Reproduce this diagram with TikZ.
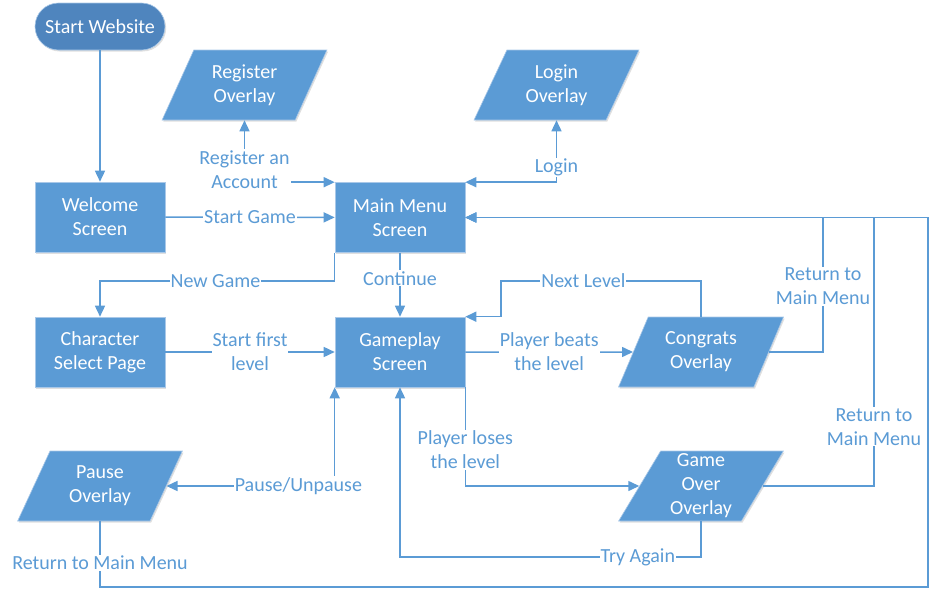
\documentclass[tikz,border=0pt]{standalone}
\usepackage{fontspec}
\setmainfont{Carlito}
\usetikzlibrary{shapes.geometric,arrows.meta,shadows}
\definecolor{boxblue}{HTML}{5B9BD5}
\definecolor{startblue}{HTML}{4F85BE}
\definecolor{edgeblue}{HTML}{A9C8E8}
\tikzset{
  box/.style={draw=edgeblue, line width=0.6pt, fill=boxblue, text=white, minimum width=130pt, minimum height=70pt, inner sep=0pt, align=center, drop shadow={shadow xshift=1.2pt, shadow yshift=-1.5pt, opacity=0.25}},
  slanted/.style={box, trapezium, trapezium left angle=63.43, trapezium right angle=116.57, trapezium stretches=true, minimum width=165pt},
  flow/.style={draw=boxblue, line width=1.5pt, -{Triangle[length=11pt,width=10pt]}},
  twoway/.style={flow, {Triangle[length=11pt,width=10pt]}-{Triangle[length=11pt,width=10pt]}},
  lbl/.style={fill=white, text=boxblue, inner sep=1pt, align=center}
}
\begin{document}
\begin{tikzpicture}[x=1pt, y=-1pt, font=\fontsize{20}{24}\selectfont]
\useasboundingbox (0,0) rectangle (931,589);
\node[box, fill=startblue, rounded corners=23.5pt, minimum height=47pt] (start) at (100,26.5) {Start Website};
\node[slanted] (reg) at (244.5,85) {Register\\Overlay};
\node[slanted] (login) at (556.5,85) {Login\\Overlay};
\node[box] (welcome) at (100,217) {Welcome\\Screen};
\node[box] (main) at (400,217.5) {Main Menu\\Screen};
\node[box] (char) at (100,352) {Character\\Select Page};
\node[box] (gp) at (400,352) {Gameplay\\Screen};
\node[slanted] (cg) at (701,352) {Congrats\\Overlay};
\node[slanted] (ps) at (100,486) {Pause\\Overlay};
\node[slanted] (go) at (701,486) {Game\\Over\\Overlay};
\coordinate (ng) at (100,281);
\coordinate (nl) at (501,281);
\coordinate (ta) at (400,557);
\coordinate (r1) at (823,217.5);
\coordinate (r2) at (874,217.5);
\coordinate (r3) at (928,587);
\draw[flow] (start) -- (welcome);
\draw[twoway] (reg.south) |- node[lbl, yshift=13pt]{Register an\\Account} (main.north west);
\draw[twoway] (login.south) |- node[lbl, yshift=14.5pt]{Login} (main.north east);
\draw[flow] (welcome) -- node[lbl]{Start Game} (main);
\draw[flow] (main) -- node[lbl, pos=0.4]{Continue} (gp);
\draw[flow] (main.south west) |- node[lbl, pos=0.754]{New Game} (ng) -- (char);
\draw[flow] (char) -- node[lbl]{Start first\\level} (gp);
\draw[flow] (gp) -- node[lbl]{Player beats\\the level} (cg);
\draw[flow] (cg.north) |- node[lbl, pos=0.794]{Next Level} (nl) |- (gp.north east);
\draw[flow] (gp.south east) |- node[lbl, pos=0.316]{Player loses\\the level} (go.west);
\draw[flow] (go.south) |- node[lbl, pos=0.605]{Try Again} (ta) -- (gp.south);
\draw[twoway] (gp.south west) |- node[lbl, pos=0.608]{Pause/Unpause} (ps.east);
\draw[flow] (cg.east) -| node[lbl, pos=0.743]{Return to\\Main Menu} (r1) -- (main.east);
\draw[flow] (go.east) -| node[lbl, pos=0.61]{Return to\\Main Menu} (r2) -- (main.east);
\draw[flow] (ps.south) |- node[lbl, pos=0.318]{Return to Main Menu} (r3) |- (main.east);
\end{tikzpicture}
\end{document}
